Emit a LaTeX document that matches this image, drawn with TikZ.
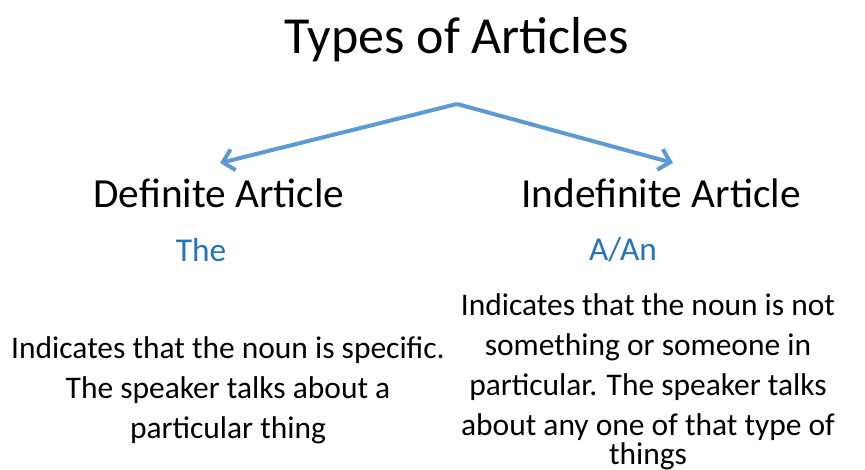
\documentclass[tikz,border=0pt]{standalone}
\usepackage{fontspec}
\setmainfont{Carlito}
\usetikzlibrary{arrows.meta}
\definecolor{art-blue}{HTML}{5B9BD5}
\definecolor{art-text}{HTML}{2473BC}

\begin{document}
\begin{tikzpicture}[x=0.75pt,y=-0.75pt,
    heading/.style={font=\fontsize{31}{37}\selectfont},
    word/.style={font=\fontsize{25}{30}\selectfont, text=art-text},
    desc/.style={font=\fontsize{23.6}{30}\selectfont, align=center, inner sep=0pt},
    branch/.style={art-blue, line width=3pt, line join=round,
      -{Straight Barb[length=8pt,width=16pt,line width=3pt]}}]
    \useasboundingbox (0,0) rectangle (865,470);
    \node[font=\fontsize{39}{47}\selectfont] (title) at (457,40) {Types of Articles};
    % the two branches
    \coordinate (apex) at (457,104);
    \coordinate (defend) at (220,163);
    \coordinate (indefend) at (673,163);
    \draw[branch] (apex) -- (defend);
    \draw[branch] (apex) -- (indefend);
    \node[heading] (def) at (219,193) {Definite Article};
    \node[heading] (indef) at (661,193) {Indefinite Article};
    \node[word] (the) at (201,250) {The};
    \node[word] (aan) at (623,250) {A/An};
    \node[desc] (defdesc) at (228,390) {Indicates that the noun is specific.\\
      The speaker talks about a\\ particular thing};
    \node[desc] (indefdesc) at (648,382) {Indicates that the noun is not\\
      something or someone in\\ particular. The speaker talks\\
      about any one of that type of\\[-8pt] things};
\end{tikzpicture}
\end{document}
